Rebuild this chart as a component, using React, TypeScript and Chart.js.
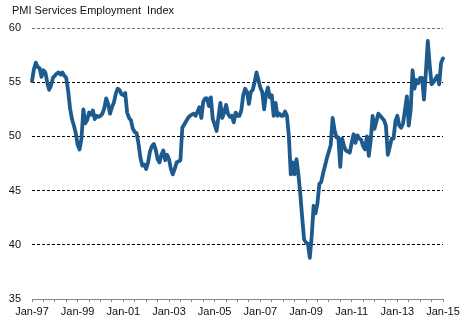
import React, { useEffect, useRef } from "react";
import { Chart, registerables } from "chart.js";

Chart.register(...registerables);

const TITLE = "PMI Services Employment  Index";
const START_YEAR = 1997;
const MONTH_NAMES = ["Jan", "Feb", "Mar", "Apr", "May", "Jun", "Jul", "Aug", "Sep", "Oct", "Nov", "Dec"];

const employmentIndex: number[] = [
  // 1997
  55.1, 56.2, 56.8, 56.4, 56.3, 55.5, 56.1, 55.9, 55.0, 54.3, 54.7, 55.4,
  // 1998
  55.6, 55.8, 55.9, 55.7, 55.9, 55.6, 55.4, 54.2, 52.6, 51.6, 51.0, 50.3,
  // 1999
  49.2, 48.8, 49.8, 52.5, 51.2, 51.5, 52.2, 52.0, 52.4, 51.6, 51.9, 51.8,
  // 2000
  51.9, 52.1, 52.6, 53.5, 53.0, 52.1, 52.7, 53.1, 53.9, 54.4, 54.3, 53.9,
  // 2001
  53.8, 54.0, 52.2, 51.7, 51.5, 50.7, 50.4, 50.3, 49.3, 48.0, 47.3, 47.4,
  // 2002
  47.0, 47.6, 48.6, 49.1, 49.3, 48.8, 47.9, 47.6, 48.3, 48.7, 47.8, 48.3,
  // 2003
  47.9, 47.0, 46.5, 47.0, 47.6, 47.7, 47.8, 50.8, 51.1, 51.4, 51.7, 51.9,
  // 2004
  52.0, 52.1, 51.9, 52.3, 52.7, 51.7, 53.2, 53.5, 53.5, 52.8, 53.6, 51.6,
  // 2005
  51.1, 50.5, 51.8, 53.1, 51.7, 52.2, 52.9, 52.1, 51.8, 51.9, 51.3, 52.2,
  // 2006
  51.9, 51.9, 52.4, 53.8, 54.4, 54.1, 53.0, 54.1, 54.3, 55.0, 55.9, 55.2,
  // 2007
  54.5, 54.1, 52.5, 53.9, 54.5, 53.6, 53.8, 51.9, 53.1, 51.9, 52.1, 51.9,
  // 2008
  51.9, 52.3, 51.9, 50.0, 46.5, 47.6, 46.5, 47.9, 46.5, 44.7, 42.5, 40.5,
  // 2009
  40.2, 40.1, 38.8, 40.8, 43.6, 42.9, 43.8, 45.6, 45.8, 46.6, 47.3, 48.0,
  // 2010
  48.6, 49.2, 51.7, 50.6, 49.9, 49.9, 47.2, 49.8, 49.1, 48.7, 48.6, 48.5,
  // 2011
  49.4, 50.2, 49.4, 50.1, 49.8, 49.7, 49.1, 48.8, 50.0, 48.2, 49.6, 51.9,
  // 2012
  50.7, 51.4, 52.1, 51.9, 51.7, 51.5, 51.0, 48.3, 49.0, 49.8, 49.8, 51.4,
  // 2013
  51.9, 51.0, 50.8, 51.2, 52.4, 53.7, 51.0, 52.4, 56.1, 54.4, 55.2, 54.9,
  // 2014
  55.4, 55.4, 53.4, 55.9, 58.8, 56.6, 54.8, 55.0, 55.3, 55.6, 54.8, 56.8,
  // 2015
  57.2,
];

const monthLabels: string[] = employmentIndex.map((_, i) => {
  const y = START_YEAR + Math.floor(i / 12);
  return `${MONTH_NAMES[i % 12]}-${String(y % 100).padStart(2, "0")}`;
});

const Y_MIN = 35;
const Y_MAX = 60;
const Y_STEP = 5;
const LABEL_EVERY = 24;
const MINOR_TICK_EVERY = 6;

const FONT = "'Liberation Sans', Arial, sans-serif";

const titlePlugin = {
  id: "leftTitle",
  afterDraw(chart: any) {
    const ctx = chart.ctx;
    ctx.save();
    ctx.font = `11px ${FONT}`;
    ctx.fillStyle = "#111";
    ctx.textBaseline = "middle";
    ctx.textAlign = "left";
    ctx.fillText(TITLE, 12, 11);
    ctx.restore();
  },
};

export default function App() {
  const ref = useRef<HTMLCanvasElement | null>(null);

  useEffect(() => {
    document.body.style.margin = "0";
    const canvas = ref.current;
    if (!canvas) return;
    const chart = new Chart(canvas, {
      type: "line",
      data: {
        labels: monthLabels,
        datasets: [
          {
            data: employmentIndex,
            borderColor: "#1D5B8E",
            borderWidth: 3.8,
            pointRadius: 0,
            tension: 0,
            borderJoinStyle: "round",
            borderCapStyle: "round",
            fill: false,
          },
        ],
      },
      options: {
        animation: false,
        responsive: false,
        maintainAspectRatio: false,
        layout: { padding: { left: 0, right: 27, top: 28, bottom: 0 } },
        plugins: {
          legend: { display: false },
          title: { display: false },
          tooltip: { enabled: false },
        },
        scales: {
          x: {
            type: "category",
            offset: false,
            border: { display: true, color: "#8a8a8a", width: 1 },
            grid: {
              display: true,
              drawOnChartArea: false,
              drawTicks: true,
              tickLength: 3,
              color: (c: any) => (c.index % MINOR_TICK_EVERY === 0 ? "#8a8a8a" : "rgba(0,0,0,0)"),
            },
            ticks: {
              autoSkip: false,
              maxRotation: 0,
              minRotation: 0,
              padding: 3,
              color: "#111",
              font: { family: FONT, size: 11 },
              callback: (_v: any, i: number) => (i % LABEL_EVERY === 0 ? monthLabels[i] : ""),
            },
            afterFit: (s: any) => {
              s.height = 27;
            },
          },
          y: {
            min: Y_MIN,
            max: Y_MAX,
            border: { display: false, dash: [3, 2] },
            grid: {
              display: true,
              drawTicks: false,
              color: (c: any) => {
                const v = c.tick ? c.tick.value : null;
                if (v === Y_MIN) return "rgba(0,0,0,0)";
                if (v === Y_MAX) return "#777";
                return "#000";
              },
              lineWidth: 1,
            },
            ticks: {
              stepSize: Y_STEP,
              padding: 11,
              color: "#111",
              font: { family: FONT, size: 11 },
            },
            afterFit: (s: any) => {
              s.width = 32;
            },
          },
        },
      },
      plugins: [titlePlugin],
    });
    return () => chart.destroy();
  }, []);

  return <canvas ref={ref} width={470} height={326} style={{ display: "block" }} />;
}
